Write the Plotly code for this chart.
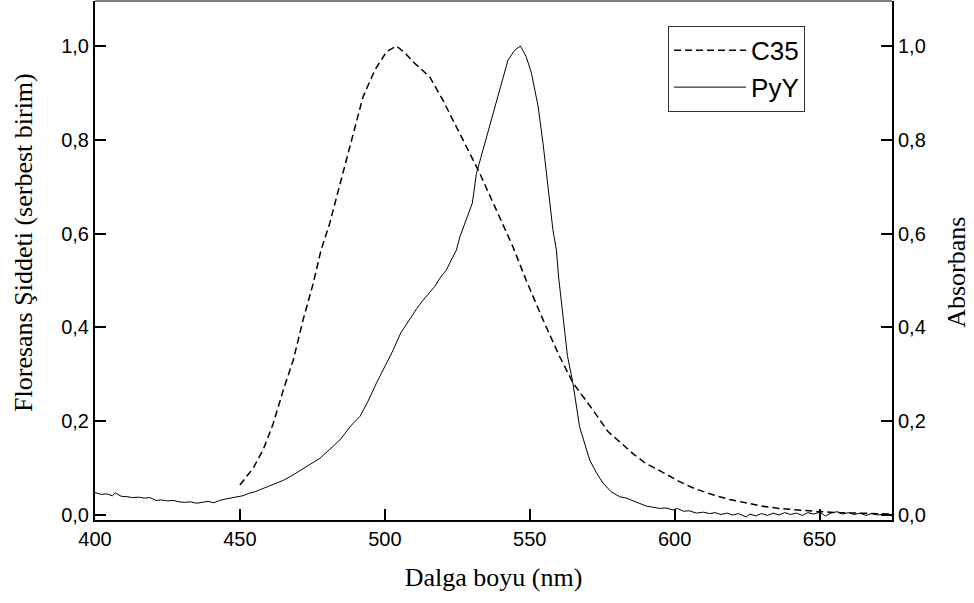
import plotly.graph_objects as go

# C35 fluorescence (dashed)
c35_x = [450, 452, 454.6, 458, 461.5, 465, 468.4, 471.8, 475.3, 478, 481, 484, 487, 490,
         492.5, 496.6, 500.6, 504, 507, 510, 515.5, 520, 524.7, 529.3, 532.5, 538.5, 544.2,
         548.8, 554.6, 560.3, 565, 571.8, 577, 585.6, 590, 595, 601.7, 607, 613.2, 619,
         624.7, 630, 636, 643, 650, 657, 665, 675]
c35_y = [0.064, 0.080, 0.100, 0.139, 0.195, 0.267, 0.330, 0.416, 0.494, 0.565, 0.622, 0.693,
         0.764, 0.835, 0.892, 0.949, 0.988, 1.000, 0.985, 0.965, 0.934, 0.885, 0.828, 0.771,
         0.732, 0.650, 0.572, 0.500, 0.416, 0.338, 0.281, 0.224, 0.178, 0.131, 0.110, 0.094,
         0.071, 0.056, 0.043, 0.033, 0.025, 0.019, 0.014, 0.010, 0.007, 0.005, 0.003, 0.002]

# PyY absorbance (solid)
pyy_x = [400, 402, 404, 406, 407, 409, 411, 413, 415, 417, 419, 421, 423, 425, 427, 429, 431,
         433, 435, 437, 439, 441, 443, 445, 447, 449, 451, 453, 455, 457, 459, 462, 465, 468,
         471, 474, 477.6, 481, 484.5, 487, 489, 491.4, 494, 497.1, 500, 502.9, 505.5, 508.6,
         511, 513.2, 515, 517.2, 519, 521.2, 522.4, 524.7, 525.9, 527.6, 530.2, 531.6, 534.5,
         537.4, 540.2, 542.5, 544.8, 546.8, 548.8, 550.6, 552.9, 554.6, 556.3, 558, 559.2, 560,
         561.5, 563, 564.9, 567.2, 570.7, 573, 575.3, 578, 581, 583.3, 587, 590.2, 594.8, 597,
         599.4, 601, 603, 605, 607.5, 610, 612, 614, 616, 618, 620, 622, 624.7, 626, 628, 630,
         632, 634, 636, 638, 640, 642, 644, 646, 648, 650, 652, 654, 656, 658, 660, 662, 664,
         666, 668, 670, 672, 675]
pyy_y = [0.048, 0.044, 0.045, 0.041, 0.047, 0.040, 0.039, 0.037, 0.038, 0.036, 0.037, 0.031,
         0.032, 0.030, 0.031, 0.028, 0.027, 0.028, 0.025, 0.027, 0.029, 0.026, 0.031, 0.034,
         0.036, 0.039, 0.041, 0.046, 0.049, 0.054, 0.059, 0.066, 0.074, 0.084, 0.095, 0.106,
         0.121, 0.140, 0.160, 0.180, 0.195, 0.210, 0.240, 0.281, 0.316, 0.352, 0.388, 0.419,
         0.440, 0.458, 0.470, 0.487, 0.505, 0.522, 0.537, 0.565, 0.593, 0.622, 0.665, 0.728,
         0.792, 0.856, 0.920, 0.970, 0.991, 1.000, 0.977, 0.942, 0.871, 0.792, 0.700, 0.608,
         0.565, 0.505, 0.423, 0.340, 0.281, 0.188, 0.117, 0.090, 0.068, 0.050, 0.039, 0.036,
         0.027, 0.019, 0.014, 0.015, 0.011, 0.014, 0.008, 0.009, 0.004, 0.006, 0.003, 0.005,
         0.001, 0.004, 0.000, 0.003, -0.004, 0.002, -0.002, 0.003, -0.001, 0.004, 0.000, 0.005,
         0.001, 0.004, -0.001, 0.005, 0.002, 0.006, -0.002, 0.004, 0.007, 0.002, 0.005, 0.001,
         0.004, -0.001, 0.003, 0.000, 0.002, -0.002]

x_range = [400, 675]
y_range = [-0.0107, 1.096]

tick_font = dict(family="Liberation Sans, Arial, sans-serif", size=20, color="black")
title_font = dict(family="Liberation Serif, Times New Roman, serif", size=26, color="black")

common_y = dict(range=y_range, tickformat=".1f",
                ticks="inside", ticklen=11, tickwidth=2, tickcolor="black",
                showline=True, linewidth=2, linecolor="black",
                tickfont=tick_font)

fig = go.Figure()
fig.add_trace(go.Scatter(x=c35_x, y=c35_y, mode="lines", name="C35",
                         line=dict(color="black", width=1.5, dash="7px,4px"),
                         yaxis="y"))
fig.add_trace(go.Scatter(x=pyy_x, y=pyy_y, mode="lines", name="PyY",
                         line=dict(color="black", width=1),
                         yaxis="y2"))

fig.update_layout(
    width=974, height=603,
    margin=dict(l=95, r=82, t=1, b=83),
    separators=",.",
    plot_bgcolor="white", paper_bgcolor="white",
    showlegend=True,
    legend=dict(x=0.719, y=0.952, xanchor="left", yanchor="top",
                font=dict(family="Liberation Sans, Arial, sans-serif", size=26, color="black"),
                bordercolor="#333", borderwidth=1, bgcolor="white",
                itemwidth=72, tracegroupgap=0),
    xaxis=dict(range=x_range,
               ticks="inside", ticklen=11, tickwidth=2, tickcolor="black",
               showline=True, linewidth=2, linecolor="black",
               tickfont=tick_font,
               title=dict(text="Dalga boyu (nm)", font=title_font, standoff=19)),
    yaxis=dict(**common_y),
    yaxis2=dict(**common_y, overlaying="y", side="right"),
    shapes=[dict(type="line", xref="paper", yref="paper", x0=0, x1=1, y0=1, y1=1,
                 line=dict(color="black", width=1))],
    annotations=[
        dict(text="Floresans Şiddeti (serbest birim)", xref="paper", yref="paper",
             x=-0.089, y=0.534, xanchor="center", yanchor="middle", textangle=-90,
             showarrow=False, font=title_font),
        dict(text="Absorbans", xref="paper", yref="paper",
             x=1.0815, y=0.478, xanchor="center", yanchor="middle", textangle=-90,
             showarrow=False, font=title_font),
    ],
)

fig.write_html("out.html")
